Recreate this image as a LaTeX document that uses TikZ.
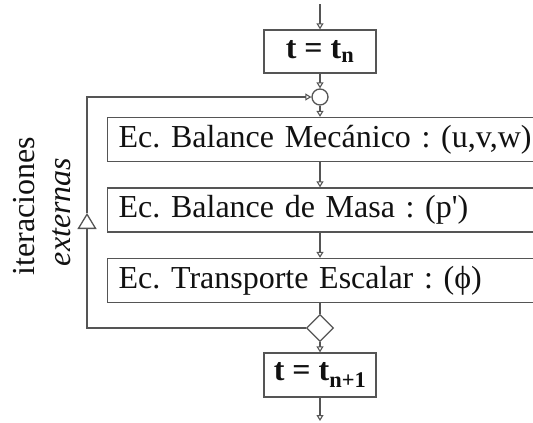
\documentclass[tikz,border=0pt]{standalone}
\usepackage{fontspec}
\setmainfont{Liberation Serif}
\usetikzlibrary{positioning,arrows.meta,calc,shapes.geometric}
\definecolor{flowline}{HTML}{555555}
\definecolor{flowink}{HTML}{111111}
\frenchspacing

\begin{document}
\begin{tikzpicture}[
  x=1pt, y=-1pt,
  font=\fontsize{32}{34}\selectfont,
  box/.style={draw=flowline, line width=1.3pt, inner sep=0pt, text=flowink},
  stepbox/.style={box, minimum width=112pt, minimum height=43pt},
  eqbox/.style={box, anchor=west, minimum height=44pt, text width=430pt, align=left, inner xsep=11pt},
  joint/.style={draw=flowline, line width=1.3pt, circle, minimum size=16pt, inner sep=0pt},
  test/.style={draw=flowline, line width=1.3pt, diamond, minimum size=27pt, inner sep=0pt},
  arr/.style={-{Triangle[open, length=6pt, width=7pt]}, line width=1.1pt, draw=flowline},
  line/.style={line width=1.3pt, draw=flowline},
  lbl/.style={rotate=90, text=flowink}
]
\useasboundingbox (0,0) rectangle (533,423);
\clip (0,0) rectangle (533,423);

\coordinate (in) at (320,4);
\node[stepbox] (tn) at (320,51.5) {\textbf{t = t}\textsubscript{\textbf{n}}};
\node[joint] (join) at (320,97) {};
\node[eqbox] (mec) at (107,139.5) {Ec. Balance Mecánico : (u,v,w)};
\node[eqbox] (masa) at (107,210) {Ec. Balance de Masa : (p\textquotesingle)};
\node[eqbox] (esc) at (107,280.5) {Ec. Transporte Escalar : (ϕ)};
\node[test] (dec) at (320,328) {};
\node[stepbox, minimum height=44pt] (tn1) at (320,375) {\textbf{t = t}\textsubscript{\textbf{n+1}}};
\coordinate (out) at (320,421);

% main chain, all on the centre line
\draw[arr] (in) -- (tn.north);
\draw[arr] (tn.south) -- (join.north);
\draw[arr] (join.south) -- (join.south |- mec.north);
\draw[arr] (mec.south -| join) -- (masa.north -| join);
\draw[arr] (masa.south -| join) -- (esc.north -| join);
\draw[line] (esc.south -| join) -- (dec.north);
\draw[arr] (dec.south) -- (tn1.north);
\draw[arr] (tn1.south) -- (out);

% outer iteration loop
\coordinate (back) at (87,213);
\draw[line, -{Triangle[open, length=16pt, width=19pt]}] (dec.west) -| (back);
\draw[arr] (back) |- (join.west);

\node[lbl] (iter) at (24,206) {iteraciones};
\node[lbl, font=\fontsize{32}{34}\selectfont\itshape] (ext) at (62,212) {externas};
\end{tikzpicture}
\end{document}
